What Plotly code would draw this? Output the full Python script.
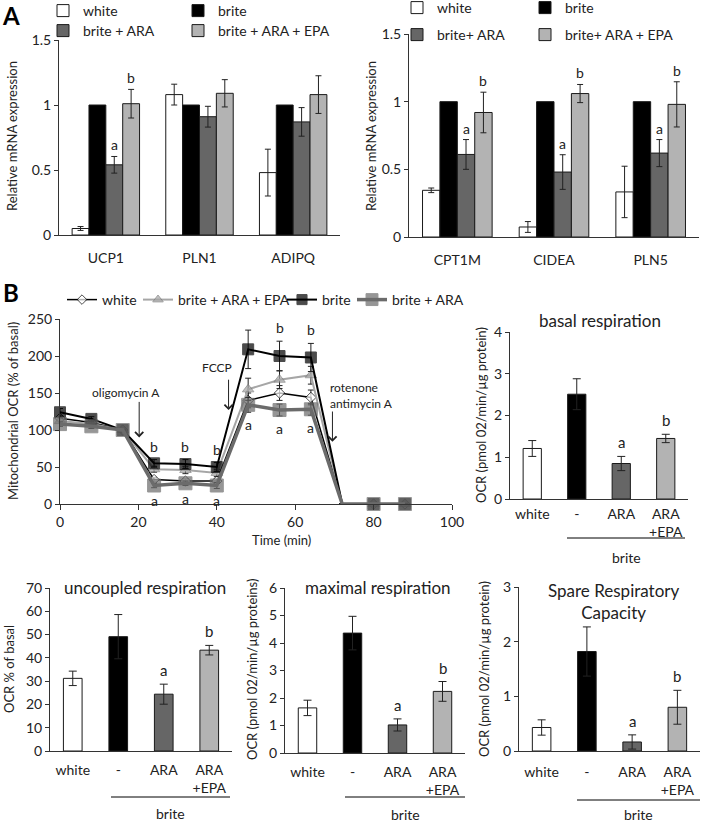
import plotly.graph_objects as go

W, H = 703, 824

# ---------------- Panel A: relative mRNA expression ----------------
genes_a1 = ["UCP1", "PLN1", "ADIPQ"]
genes_a2 = ["CPT1M", "CIDEA", "PLN5"]
groups_a1 = ["white", "brite", "brite + ARA", "brite + ARA + EPA"]
groups_a2 = ["white", "brite", "brite+ ARA", "brite+ ARA + EPA"]

a1_white = [0.05, 1.08, 0.48]
a1_white_err = [0.015, 0.08, 0.18]
a1_brite = [1.0, 1.0, 1.0]
a1_ara = [0.54, 0.91, 0.87]
a1_ara_err = [0.064, 0.08, 0.11]
a1_epa = [1.01, 1.09, 1.08]
a1_epa_err = [0.11, 0.105, 0.145]
a1_sig = [["", "", ""], ["", "", ""], ["a", "", ""], ["b", "", ""]]

a2_white = [0.345, 0.074, 0.333]
a2_white_err = [0.017, 0.04, 0.19]
a2_brite = [1.0, 1.0, 1.0]
a2_ara = [0.61, 0.48, 0.62]
a2_ara_err = [0.11, 0.128, 0.10]
a2_epa = [0.92, 1.06, 0.98]
a2_epa_err = [0.15, 0.067, 0.167]
a2_sig = [["", "", ""], ["", "", ""], ["a", "a", "a"], ["b", "b", "b"]]

# ---------------- Panel B: OCR time course ----------------
ocr_time = [0, 8, 16, 24, 32, 40, 48, 56, 64, 72, 80, 88]
ocr_names = ["white", "brite + ARA + EPA", "brite", "brite + ARA"]
ocr_white = [116, 110, 100, 33, 31, 31, 140, 150, 144, 0, 0, 0]
ocr_white_err = [3, 3, 0, 3, 3, 3, 10, 10, 10, 0, 0, 0]
ocr_epa = [112, 108, 100, 47, 46, 42, 155, 168, 174, 0, 0, 0]
ocr_epa_err = [4, 3, 0, 4, 5, 5, 15, 12, 12, 0, 0, 0]
ocr_brite = [124, 115, 100, 55, 54, 50, 209, 200, 198, 0, 0, 0]
ocr_brite_err = [5, 3, 0, 5, 6, 6, 26, 20, 19, 0, 0, 0]
ocr_ara = [108, 105, 100, 25, 28, 25, 134, 127, 128, 0, 0, 0]
ocr_ara_err = [3, 3, 0, 3, 3, 4, 10, 8, 8, 0, 0, 0]
ocr_brite_sig = ["", "", "", "b", "b", "b", "", "b", "b", "", "", ""]
ocr_ara_sig = ["", "", "", "a", "a", "a", "a", "a", "a", "", "", ""]

# injections: label, time of arrow
inj_labels = ["oligomycin A", "FCCP", "rotenone<br>antimycin A"]
inj_times = [20.2, 43, 69.5]

# ---------------- Panel B: respiration bar charts ----------------
conds = ["white", "-", "ARA", "ARA<br>+EPA"]
basal = [1.21, 2.51, 0.85, 1.45]
basal_err = [0.19, 0.37, 0.17, 0.10]
uncoupled = [31.2, 49.1, 24.4, 43.3]
uncoupled_err = [3.1, 9.5, 4.3, 2.05]
maximal = [1.64, 4.36, 1.02, 2.24]
maximal_err = [0.28, 0.61, 0.22, 0.36]
spare = [0.43, 1.82, 0.165, 0.80]
spare_err = [0.14, 0.45, 0.13, 0.31]
resp_sig = ["", "", "a", "b"]

FONT = "Lato, 'Open Sans', sans-serif"
INK = "#222222"
fills = ["white", "black", "#666666", "#b3b3b3"]


def fx(px):
    return px / W


def fy(py):
    return 1 - py / H


fig = go.Figure()

# legend boxes: (text start x px, row centre y px), one box per entry
legend_boxes = {}


def add_legend(lid, text_x, row_y):
    legend_boxes[lid] = dict(orientation="h", xanchor="left", yanchor="middle",
                             x=fx(text_x - 45), y=fy(row_y), bgcolor="rgba(0,0,0,0)",
                             font=dict(size=14, color=INK), itemwidth=30)


# ---- panel A bars ----
def a_panel(genes, groups, series, errs, sigs, xa, ya, leg_ids):
    offs = [-0.27, -0.09, 0.09, 0.27]
    for i in range(4):
        fig.add_trace(go.Bar(
            x=genes, y=series[i], name=groups[i],
            marker=dict(color=fills[i], line=dict(color="#1a1a1a", width=1)),
            error_y=dict(type="data", array=errs[i] or [0, 0, 0], visible=errs[i] is not None,
                         color=INK, thickness=1, width=3),
            xaxis=xa, yaxis=ya, legend=leg_ids[i],
        ))
        for j, s in enumerate(sigs[i]):
            if s:
                top = series[i][j] + (errs[i][j] if errs[i] else 0)
                fig.add_annotation(x=j + offs[i], y=top, xref=xa, yref=ya, text=s,
                                   showarrow=False, yanchor="bottom", yshift=1,
                                   font=dict(size=14, color=INK))


a_panel(genes_a1, groups_a1, [a1_white, a1_brite, a1_ara, a1_epa],
        [a1_white_err, None, a1_ara_err, a1_epa_err], a1_sig, "x", "y",
        ["legend", "legend2", "legend3", "legend4"])
a_panel(genes_a2, groups_a2, [a2_white, a2_brite, a2_ara, a2_epa],
        [a2_white_err, None, a2_ara_err, a2_epa_err], a2_sig, "x2", "y2",
        ["legend5", "legend6", "legend7", "legend8"])
add_legend("legend", 88, 11)
add_legend("legend2", 223, 11)
add_legend("legend3", 88, 31)
add_legend("legend4", 223, 31)
add_legend("legend5", 442, 8)
add_legend("legend6", 570, 8)
add_legend("legend7", 442, 35)
add_legend("legend8", 570, 35)

# ---- panel B time course ----
ocr_series = [ocr_white, ocr_epa, ocr_brite, ocr_ara]
ocr_errs = [ocr_white_err, ocr_epa_err, ocr_brite_err, ocr_ara_err]
ocr_legs = ["legend9", "legend10", "legend11", "legend12"]
styles = [
    dict(line=dict(color="black", width=1.5),
         marker=dict(symbol="diamond", color="white", size=8, line=dict(color="black", width=1))),
    dict(line=dict(color="#a6a6a6", width=2),
         marker=dict(symbol="triangle-up", color="#a6a6a6", size=10, line=dict(color="#7a7a7a", width=1))),
    dict(line=dict(color="black", width=2),
         marker=dict(symbol="square", color="black", size=11, line=dict(color="black", width=1))),
    dict(line=dict(color="#6b6b6b", width=3.5),
         marker=dict(symbol="square", color="#6b6b6b", size=13, line=dict(color="#6b6b6b", width=1))),
]
for name, vals, errs, st, lid in zip(ocr_names, ocr_series, ocr_errs, styles, ocr_legs):
    st["marker"]["size"] = [0 if t == 72 else st["marker"]["size"] for t in ocr_time]
    fig.add_trace(go.Scatter(
        x=ocr_time, y=vals, name=name, mode="lines+markers",
        line=st["line"], marker=st["marker"],
        error_y=dict(type="data", array=errs, color=INK, thickness=1, width=3),
        cliponaxis=False, xaxis="x3", yaxis="y3", legend=lid,
    ))
for lid, tx in zip(ocr_legs, [107, 183, 327, 397]):
    add_legend(lid, tx, 300)

for t, v, e, s in zip(ocr_time, ocr_brite, ocr_brite_err, ocr_brite_sig):
    if s:
        fig.add_annotation(x=t, y=v + e, xref="x3", yref="y3", text=s, showarrow=False,
                           yanchor="bottom", yshift=3, font=dict(size=14, color=INK))
for t, v, e, s in zip(ocr_time, ocr_ara, ocr_ara_err, ocr_ara_sig):
    if s:
        fig.add_annotation(x=t, y=v - e, xref="x3", yref="y3", text=s, showarrow=False,
                           yanchor="top", yshift=-2, font=dict(size=14, color=INK))

# injection arrows and labels (label position in axis units)
label_pos = [(16.8, 151, "center"), (40, 185, "center"), (68.4, 147, "left")]
arrow_span = [(140, 90), (170, 127), (127, 84)]
for lab, t, (lx, ly, la), (y0, y1) in zip(inj_labels, inj_times, label_pos, arrow_span):
    fig.add_annotation(x=lx, y=ly, xref="x3", yref="y3", text=lab, showarrow=False,
                       xanchor=la, align="left", font=dict(size=12, color=INK))
    fig.add_annotation(x=t, y=y1, ax=t, ay=y0, xref="x3", yref="y3", axref="x3", ayref="y3",
                       text="", showarrow=True, arrowhead=4, arrowsize=1.6, arrowwidth=1,
                       arrowcolor=INK)


# ---- panel B respiration bars ----
def resp_panel(vals, errs, xa, ya):
    fig.add_trace(go.Bar(
        x=conds, y=vals, width=0.41, showlegend=False,
        marker=dict(color=fills, line=dict(color="#1a1a1a", width=1)),
        error_y=dict(type="data", array=errs, color=INK, thickness=1, width=4),
        xaxis=xa, yaxis=ya,
    ))
    for c, v, e, s in zip(conds, vals, errs, resp_sig):
        if s:
            fig.add_annotation(x=c, y=v + e, xref=xa, yref=ya, text=s, showarrow=False,
                               yanchor="bottom", yshift=3, font=dict(size=15, color=INK))


resp_panel(basal, basal_err, "x4", "y4")
resp_panel(uncoupled, uncoupled_err, "x5", "y5")
resp_panel(maximal, maximal_err, "x6", "y6")
resp_panel(spare, spare_err, "x7", "y7")


# ---- axes ----
def xax(l, r, anchor, **kw):
    d = dict(domain=[fx(l), fx(r)], anchor=anchor, showline=True, linecolor="#333",
             linewidth=1, showgrid=False, zeroline=False, ticks="",
             tickfont=dict(size=14, color=INK))
    d.update(kw)
    return d


def yax(bottom, top, anchor, rng, dtick, **kw):
    d = dict(domain=[fy(bottom), fy(top)], anchor=anchor, range=rng, dtick=dtick,
             showline=True, linecolor="#333", linewidth=1, showgrid=False, zeroline=False,
             ticks="outside", ticklen=4, tickcolor="#333", tickfont=dict(size=14, color=INK))
    d.update(kw)
    return d


fig.update_layout(
    xaxis=xax(59, 340, "y", ticklabelstandoff=10),
    yaxis=yax(235, 40, "x", [0, 1.5], 0.5),
    xaxis2=xax(409, 699, "y2", ticklabelstandoff=10),
    yaxis2=yax(237, 34, "x2", [0, 1.5], 0.5),
    xaxis3=xax(60, 452, "y3", range=[0, 100], dtick=20, ticks="outside", ticklen=5,
               tickcolor="#333"),
    yaxis3=yax(504, 319, "x3", [0, 250], 50),
    xaxis4=xax(510, 688, "y4", ticklabelstandoff=2),
    yaxis4=yax(499, 332, "x4", [0, 4], 1),
    xaxis5=xax(50, 232, "y5", ticklabelstandoff=6),
    yaxis5=yax(751, 588, "x5", [0, 70], 10),
    xaxis6=xax(285, 465, "y6", ticklabelstandoff=6),
    yaxis6=yax(753, 588, "x6", [0, 6], 1),
    xaxis7=xax(519, 700, "y7", ticklabelstandoff=8),
    yaxis7=yax(751, 587, "x7", [0, 3], 1),
    barmode="group", bargap=0.28, bargroupgap=0,
    **legend_boxes,
)


# ---- free text: panel letters, titles, axis titles, group labels ----
def txt(px, py, text, size=14, angle=0, bold=False, **kw):
    fig.add_annotation(x=fx(px), y=fy(py), xref="paper", yref="paper", text=text,
                       showarrow=False, textangle=angle, xanchor=kw.pop("xanchor", "center"),
                       yanchor="middle", font=dict(size=size, color=kw.pop("color", INK),
                                                   weight="bold" if bold else "normal"), **kw)


txt(11, 15, "A", size=24, bold=True, color="black")
txt(11, 292, "B", size=24, bold=True, color="black")

txt(12, 136, "Relative mRNA expression", size=13, angle=-90)
txt(371, 136, "Relative mRNA expression", size=13, angle=-90)
txt(13, 411, "Mitochondrial OCR (% of basal)", size=13, angle=-90)
txt(281, 540, "Time (min)", size=13)
txt(481, 415, "OCR (pmol 02/min/µg protein)", size=13, angle=-90)
txt(9, 669, "OCR % of basal", size=13, angle=-90)
txt(252, 670, "OCR (pmol 02/min/µg proteins)", size=13, angle=-90)
txt(484, 669, "OCR (pmol 02/min/µg protein)", size=13, angle=-90)

txt(600, 320, "basal respiration", size=17)
txt(145, 587, "uncoupled respiration", size=17)
txt(378, 587, "maximal respiration", size=17)
txt(613, 601, "Spare Respiratory<br>Capacity", size=17)

# "brite" group underlines
for x0, x1, yl, yt in [(567, 685, 538, 557), (111, 230, 797, 813),
                       (345, 465, 797, 814), (577, 700, 800, 814)]:
    fig.add_shape(type="line", xref="paper", yref="paper", x0=fx(x0), x1=fx(x1),
                  y0=fy(yl), y1=fy(yl), line=dict(color="black", width=1))
    txt((x0 + x1) / 2, yt, "brite", size=14)

fig.update_layout(
    width=W, height=H, margin=dict(l=0, r=0, t=0, b=0, autoexpand=False),
    paper_bgcolor="white", plot_bgcolor="white",
    font=dict(family=FONT, color=INK),
)

fig.write_html("out.html", config={"displayModeBar": False},
               post_script="document.body.style.margin='0';")
